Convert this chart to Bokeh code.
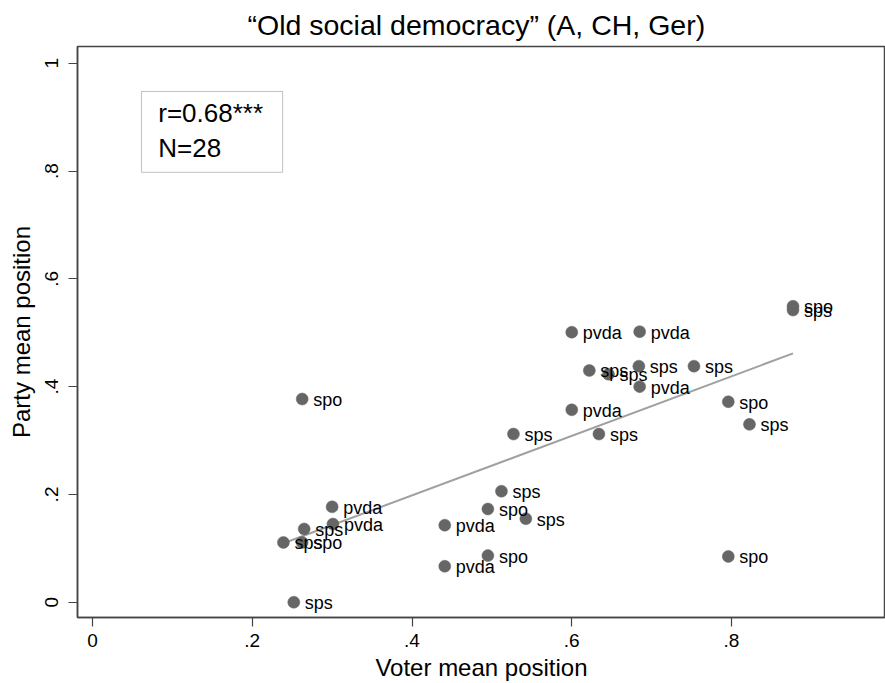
import numpy as np
from bokeh.plotting import figure
from bokeh.models import ColumnDataSource, FixedTicker, Range1d, BoxAnnotation, Label
from bokeh.core.properties import value
from bokeh.embed import file_html
from bokeh.resources import INLINE

FONT = "Liberation Sans"

# ---- data ----
voter_mean = [0.2625, 0.300, 0.265, 0.301, 0.239, 0.2625, 0.252,
              0.600, 0.622, 0.600, 0.527, 0.634, 0.512, 0.495, 0.5425,
              0.441, 0.495, 0.441, 0.685, 0.646, 0.684, 0.685, 0.753,
              0.796, 0.8225, 0.877, 0.877, 0.796]
party_mean = [0.377, 0.177, 0.136, 0.145, 0.111, 0.111, 0.000,
              0.501, 0.430, 0.357, 0.312, 0.312, 0.206, 0.173, 0.155,
              0.143, 0.0865, 0.0667, 0.502, 0.423, 0.438, 0.400, 0.438,
              0.372, 0.330, 0.549, 0.542, 0.085]
party_label = ["spo", "pvda", "sps", "pvda", "sps", "spo", "sps",
               "pvda", "sps", "pvda", "sps", "sps", "sps", "spo", "sps",
               "pvda", "spo", "pvda", "pvda", "sps", "sps", "pvda", "sps",
               "spo", "sps", "spo", "sps", "spo"]

x_ticks = [0, 0.2, 0.4, 0.6, 0.8]
x_tick_labels = ["0", ".2", ".4", ".6", ".8"]
y_ticks = [0, 0.2, 0.4, 0.6, 0.8, 1]
y_tick_labels = ["0", ".2", ".4", ".6", ".8", "1"]

title_text = "\u201cOld social democracy\u201d (A, CH, Ger)"
x_title = "Voter mean position"
y_title = "Party mean position"
stat_r = "r=0.68***"
stat_n = "N=28"

# ---- figure ----
p = figure(width=885, height=683, output_backend="svg", toolbar_location=None,
           x_range=Range1d(-0.0188, 0.9928), y_range=Range1d(-0.0283, 1.031),
           min_border_left=77, min_border_right=0, min_border_top=46,
           min_border_bottom=65)
p.background_fill_color = "white"
p.border_fill_color = "white"
p.outline_line_color = "#444444"
p.outline_line_width = 1.5
p.xgrid.visible = False
p.ygrid.visible = False

p.title.text = title_text
p.title.text_font = FONT
p.title.text_font_size = "28.5px"
p.title.text_font_style = "normal"
p.title.text_color = "black"
p.title.align = "left"
p.title.offset = 170
p.title.standoff = 12

for ax in (p.xaxis[0], p.yaxis[0]):
    ax.axis_line_color = "#444444"
    ax.axis_line_width = 1.5
    ax.major_tick_line_color = "#444444"
    ax.major_tick_line_width = 1.2
    ax.major_tick_out = 9
    ax.major_tick_in = 0
    ax.minor_tick_line_color = None
    ax.major_label_text_font = FONT
    ax.major_label_text_font_size = "19px"
    ax.major_label_text_color = "black"
    ax.axis_label_text_font = FONT
    ax.axis_label_text_font_size = "24px"
    ax.axis_label_text_font_style = "normal"
    ax.axis_label_text_color = "black"

p.xaxis.ticker = FixedTicker(ticks=x_ticks)
p.xaxis.major_label_overrides = dict(zip(x_ticks, x_tick_labels))
p.yaxis.ticker = FixedTicker(ticks=y_ticks)
p.yaxis.major_label_overrides = dict(zip(y_ticks, y_tick_labels))
p.yaxis.major_label_orientation = "vertical"
p.xaxis.axis_label = x_title
p.yaxis.axis_label = y_title
p.xaxis.major_label_standoff = 7
p.xaxis.axis_label_standoff = 4
p.yaxis.major_label_standoff = 10
p.yaxis.axis_label_standoff = 8

# ---- fit line (OLS) ----
xv = np.array(voter_mean)
yv = np.array(party_mean)
slope, intercept = np.polyfit(xv, yv, 1)
fx = np.array([xv.min(), xv.max()])
p.line(fx, intercept + slope * fx, line_color="#a0a0a0", line_width=2)

src = ColumnDataSource(dict(x=voter_mean, y=party_mean, lab=party_label))
p.scatter("x", "y", source=src, size=12, fill_color="#666666",
          line_color="#666666", line_width=0.5)
p.text("x", "y", text="lab", source=src, x_offset=11, y_offset=1,
       text_font=value(FONT), text_font_size="18px", text_baseline="middle",
       text_align="left", text_color="black")

# ---- stats box ----
p.add_layout(BoxAnnotation(left=0.0613, right=0.238, bottom=0.7976, top=0.9476,
                           fill_color=None, line_color="#333333", line_width=1))
p.add_layout(Label(x=0.0823, y=0.907, text=stat_r, text_font=FONT,
                   text_font_size="26px", text_baseline="middle", text_color="black"))
p.add_layout(Label(x=0.0823, y=0.8426, text=stat_n, text_font=FONT,
                   text_font_size="26px", text_baseline="middle", text_color="black"))

open("out.html", "w").write(file_html(p, INLINE))
